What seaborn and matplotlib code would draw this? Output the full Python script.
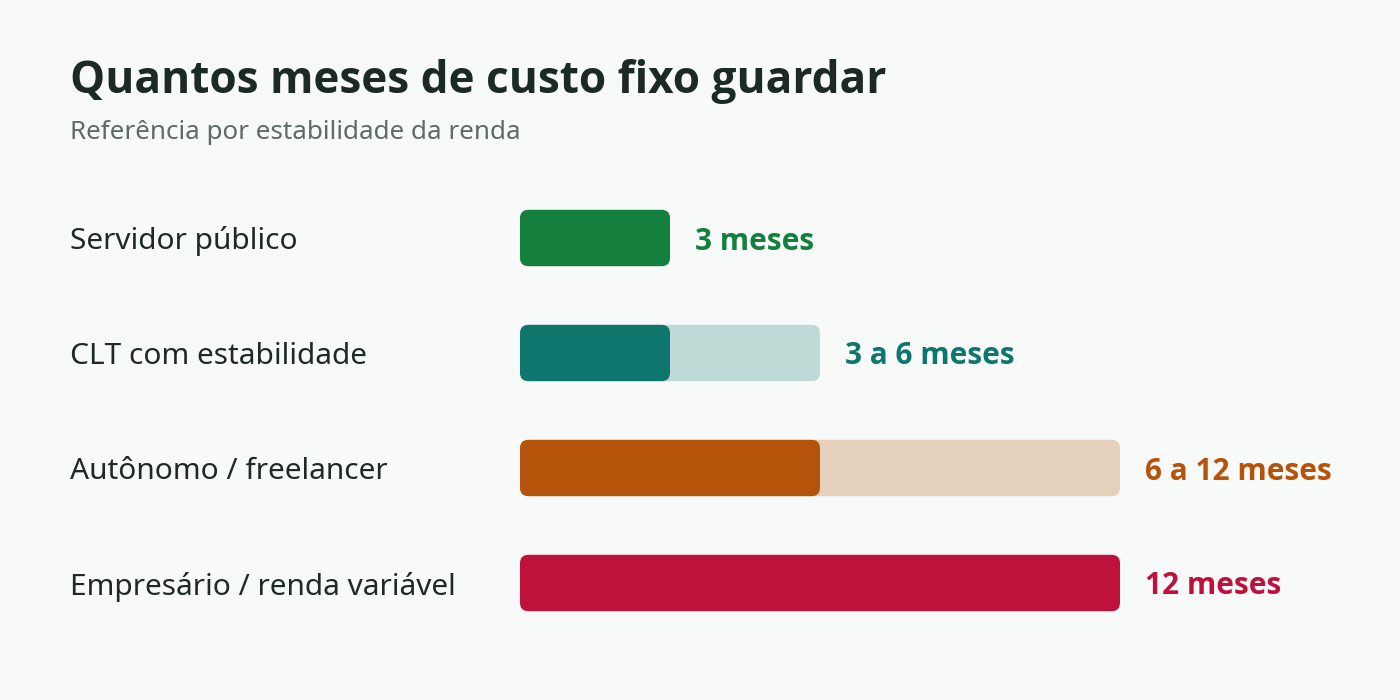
import matplotlib
matplotlib.use("Agg")
import matplotlib.pyplot as plt
import matplotlib.transforms as mtransforms
from matplotlib.patches import FancyBboxPatch
import pandas as pd
import seaborn as sns

# Dados
perfis = ["Servidor público", "CLT com estabilidade", "Autônomo / freelancer", "Empresário / renda variável"]
meses_min = [3, 3, 6, 12]
meses_max = [3, 6, 12, 12]
rotulos = ["3 meses", "3 a 6 meses", "6 a 12 meses", "12 meses"]
cores = ["#15803d", "#0f766e", "#b45309", "#be123c"]
cores_claras = ["#b9d9c4", "#bddad6", "#e5d0bb", "#efc3cd"]

df = pd.DataFrame({"perfil": perfis, "min": meses_min, "max": meses_max})

bg = "#f8faf9"
sns.set_theme(style="white")
plt.rcParams["font.family"] = ["Noto Sans", "DejaVu Sans"]
bold_fam = ["Open Sans", "Noto Sans", "DejaVu Sans"]

fig = plt.figure(figsize=(14, 7), dpi=100, facecolor=bg)
ax = fig.add_axes([520 / 1400, (700 - 640.5) / 700, 600 / 1400, 460 / 700])
ax.set_facecolor(bg)

# faixa máxima (clara) e mínima (escura)
sns.barplot(data=df, x="max", y="perfil", hue="perfil", palette=cores_claras,
            orient="h", width=0.49, legend=False, ax=ax, saturation=1)
sns.barplot(data=df, x="min", y="perfil", hue="perfil", palette=cores,
            orient="h", width=0.49, legend=False, ax=ax, saturation=1)

ax.set_xlim(0, 12)
ax.set_ylim(3.5, -0.5)

# cantos arredondados
aspect = 50 / 115
for p in list(ax.patches):
    x, y = p.get_x(), p.get_y()
    w, h = p.get_width(), p.get_height()
    fc = p.get_facecolor()
    z = p.get_zorder()
    p.remove()
    ax.add_patch(FancyBboxPatch((x, y), w, h,
                                boxstyle="round,pad=0,rounding_size=0.17",
                                mutation_aspect=aspect, fc=fc, ec="none", zorder=z))

trans = mtransforms.blended_transform_factory(fig.transFigure, ax.transData)
for i, perfil in enumerate(perfis):
    ax.text(70 / 1400, i, perfil, transform=trans, ha="left", va="center_baseline",
            fontsize=21.5, color="#1f2a24")
    ax.text(meses_max[i] + 0.5, i, rotulos[i], ha="left", va="center_baseline",
            fontsize=21.4, fontweight="bold", family=bold_fam, color=cores[i], clip_on=False)

ax.set_xlabel("")
ax.set_ylabel("")
ax.set_xticks([])
ax.set_yticks([])
sns.despine(ax=ax, left=True, bottom=True)

fig.text(70 / 1400, 1 - 93 / 700, "Quantos meses de custo fixo guardar",
         fontsize=31.8, fontweight="bold", family=bold_fam, color="#1c2a24",
         ha="left", va="baseline")
fig.text(70 / 1400, 1 - 139 / 700, "Referência por estabilidade da renda",
         fontsize=18.75, color="#5f6b66", ha="left", va="baseline")

fig.savefig("out.png", dpi=100, facecolor=bg)
